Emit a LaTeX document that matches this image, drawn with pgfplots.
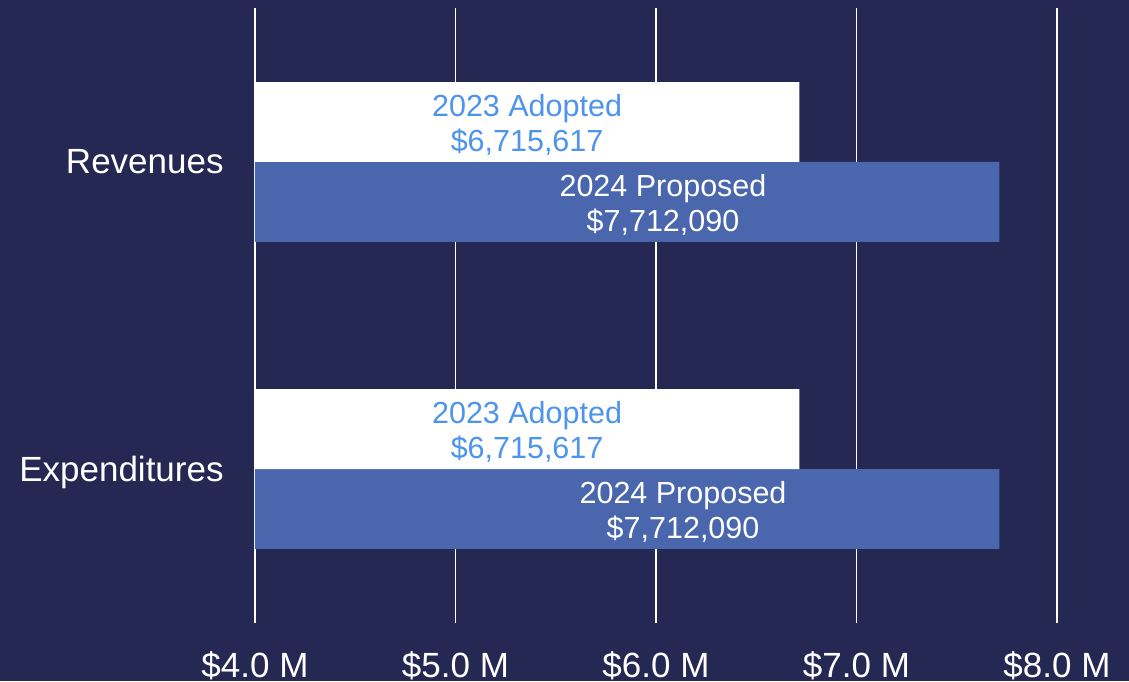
\documentclass[border=0pt]{standalone}
\usepackage{fontspec}
\setmainfont{Liberation Sans}
\usepackage{pgfplots}
\pgfplotsset{compat=1.18}
\definecolor{bg}{RGB}{38,40,84}
\definecolor{barblue}{RGB}{74,103,174}
\definecolor{lblblue}{RGB}{77,148,236}

\begin{document}
\begin{tikzpicture}
% background and page size (1px = 0.5pt)
\path[fill=bg, use as bounding box] (-127.5pt,-29pt) rectangle (437pt,311.5pt);
\begin{axis}[
    scale only axis,
    width=401pt, height=307.5pt,
    xbar,
    bar width=0.26,
    xmin=4, xmax=8,
    ymin=-0.5016, ymax=1.5016,
    xtick={4,5,6,7,8},
    xticklabels={\$4.0 M,\$5.0 M,\$6.0 M,\$7.0 M,\$8.0 M},
    ytick={0,1},
    yticklabels={Expenditures,Revenues},
    axis line style={draw=none},
    major tick length=0pt,
    xmajorgrids,
    major grid style={white, line width=0.75pt},
    ticklabel style={font=\fontsize{17.5pt}{20pt}\selectfont, text=white},
    xticklabel style={anchor=base, yshift=-27pt},
    yticklabel style={anchor=base east, inner sep=0pt, xshift=-15.5pt, yshift=-6pt},
    nodes near coords style={font=\fontsize{15.25pt}{17.5pt}\selectfont, align=center, anchor=center, yshift=-1.5pt},
]
\addplot[fill=barblue, draw=none, bar shift=-0.13] coordinates {(7.712090,1) (7.712090,0)};
\addplot[fill=white, draw=none, bar shift=0.13] coordinates {(6.715617,1) (6.715617,0)};
% bar labels
\addplot[draw=none, mark=none, bar shift=0, nodes near coords, point meta=explicit symbolic,
    nodes near coords style={text=lblblue}]
    coordinates {(5.357,1.13) [{2023 Adopted\\\$6,715,617}]
                 (5.357,0.13) [{2023 Adopted\\\$6,715,617}]};
\addplot[draw=none, mark=none, bar shift=0, nodes near coords, point meta=explicit symbolic,
    nodes near coords style={text=white}]
    coordinates {(6.035,0.87) [{2024 Proposed\\\$7,712,090}]
                 (6.135,-0.13) [{2024 Proposed\\\$7,712,090}]};
\end{axis}
\end{tikzpicture}
\end{document}
